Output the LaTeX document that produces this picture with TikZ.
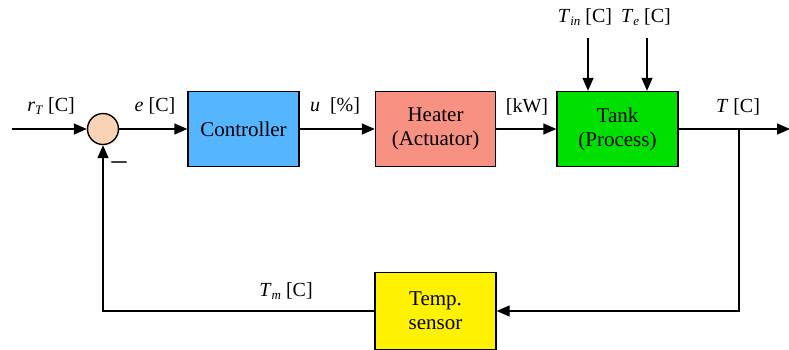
\documentclass[tikz,border=0pt]{standalone}
\usepackage{fontspec}
\setmainfont{Liberation Serif}
\usetikzlibrary{arrows.meta}
\definecolor{ctrlblue}{RGB}{85,181,255}
\definecolor{heatred}{RGB}{247,145,130}
\definecolor{tankgreen}{RGB}{0,224,0}
\definecolor{sumpeach}{RGB}{250,210,180}
\newcommand{\lowsub}[1]{\raisebox{-0.35ex}{\fontsize{13}{13}\selectfont\textit{#1}}}
\begin{document}
\begin{tikzpicture}[x=1pt,y=-1pt,
    block/.style={draw,line width=1.4pt,minimum width=121pt,minimum height=75pt,align=center,font=\fontsize{21}{24}\selectfont},
    sig/.style={font=\fontsize{20}{22}\selectfont},
    flow/.style={line width=1.4pt,-{Triangle[length=13pt,width=11pt]}}]
    \useasboundingbox (0,0) rectangle (789,349);
    % blocks
    \node[draw,circle,fill=sumpeach,minimum size=31pt,inner sep=0pt,line width=1.4pt] (sum) at (103,129) {};
    \node[block,fill=ctrlblue,minimum width=111pt] (ctrl) at (243.5,129) {Controller};
    \node[block,fill=heatred,minimum width=120pt] (heater) at (435.5,129) {Heater\\(Actuator)};
    \node[block,fill=tankgreen] (tank) at (617.5,129) {Tank\\(Process)};
    \node[block,fill=yellow,minimum height=77pt] (sensor) at (435.5,311) {Temp.\\sensor};
    \coordinate (ref) at (12,129);
    \coordinate (out) at (790,129);
    \coordinate (branch) at (739,129);
    \coordinate (tin) at (588,38);
    \coordinate (te) at (647,38);
    % signals
    \draw[flow] (ref) -- (sum);
    \draw[flow] (sum) -- (ctrl);
    \draw[flow] (ctrl) -- (heater);
    \draw[flow] (heater) -- (tank);
    \draw[flow] (tank) -- (out);
    \draw[flow] (tin) -- (tin |- tank.north);
    \draw[flow] (te) -- (te |- tank.north);
    \draw[flow] (branch) |- (sensor.east);
    \draw[flow] (sensor.west) -| (sum.south);
    % labels
    \node[sig] (lref) at (51,106) {\textit{r}\lowsub{T} [C]};
    \node[sig] (lerr) at (155,106) {\textit{e} [C]};
    \node[sig] (lu) at (335,106) {\textit{u}~ [\%]};
    \node[sig] (lkw) at (527,107) {[kW]};
    \node[sig] (lout) at (738,107) {\textit{T} [C]};
    \node[sig] (ltm) at (286,291) {\textit{T}\lowsub{m} [C]};
    \node[sig] (ltin) at (585,17) {\textit{T}\lowsub{in} [C]};
    \node[sig] (lte) at (646,17) {\textit{T}\lowsub{e} [C]};
    \node[font=\fontsize{30}{30}\selectfont] (minus) at (119,166) {–};
\end{tikzpicture}
\end{document}
